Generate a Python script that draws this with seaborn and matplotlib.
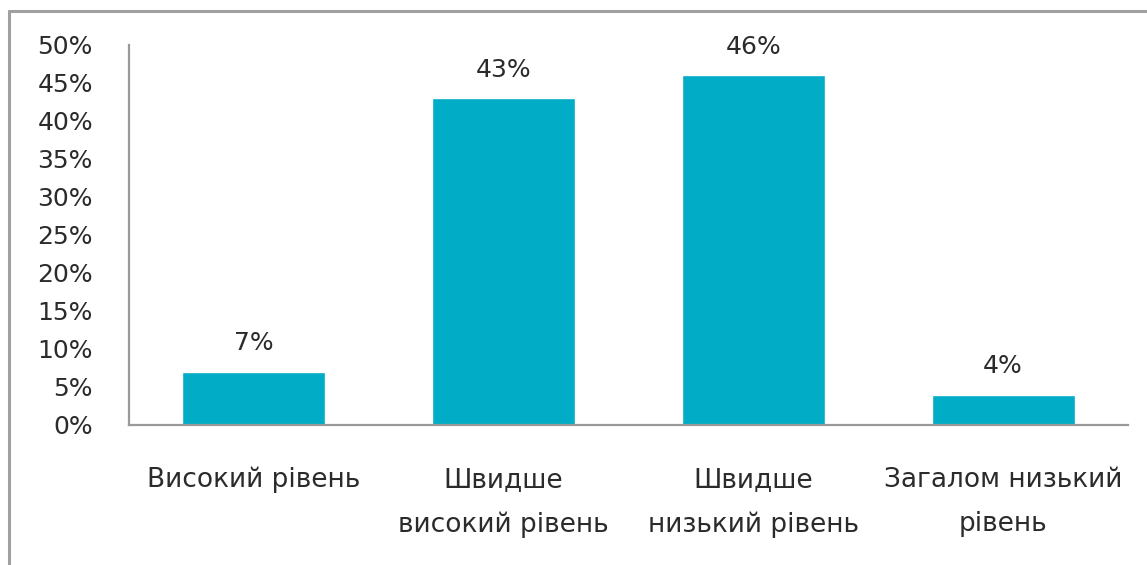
import matplotlib
matplotlib.use("Agg")
import matplotlib.pyplot as plt
import seaborn as sns
import pandas as pd
from matplotlib.lines import Line2D

categories = ["Високий рівень", "Швидше\nвисокий рівень", "Швидше\nнизький рівень", "Загалом низький\nрівень"]
values = [7, 43, 46, 4]
yticks = [0, 5, 10, 15, 20, 25, 30, 35, 40, 45, 50]

sns.set_theme(style="white")
plt.rcParams["font.family"] = ["DejaVu Sans"]

df = pd.DataFrame({"category": categories, "value": values})

fig = plt.figure(figsize=(11.47, 5.65), dpi=100)
ax = fig.add_axes([129 / 1147, 1 - 425 / 565, (1128 - 129) / 1147, (425 - 45) / 565])

sns.barplot(data=df, x="category", y="value", color="#00acc6", saturation=1,
            width=0.572, ax=ax)

ax.set_xlim(-0.5, 3.5)
ax.set_ylim(0, 50)
ax.set_yticks(yticks)
ax.set_yticklabels([f"{t}%" for t in yticks])
ax.set_xlabel("")
ax.set_ylabel("")

text_color = "#2b2b2b"
ax.tick_params(axis="y", length=0, pad=26, labelsize=18, labelcolor=text_color)
ax.tick_params(axis="x", length=0, pad=30, labelsize=19, labelcolor=text_color)
for lbl in ax.get_xticklabels():
    lbl.set_linespacing(1.9)
    lbl.set_verticalalignment("top")

for s in ["top", "right"]:
    ax.spines[s].set_visible(False)
for s in ["left", "bottom"]:
    ax.spines[s].set_color("#9a9a9a")
    ax.spines[s].set_linewidth(1.6)

for container in ax.containers:
    ax.bar_label(container, labels=[f"{v}%" for v in values], padding=12,
                 fontsize=18, color=text_color)

# outer frame of the chart area
fig.add_artist(Line2D([9 / 1147, 9 / 1147], [0, 1 - 11 / 565], transform=fig.transFigure,
                      color="#a0a0a0", linewidth=2.2))
fig.add_artist(Line2D([9 / 1147, 1], [1 - 11 / 565, 1 - 11 / 565], transform=fig.transFigure,
                      color="#a0a0a0", linewidth=2.2))

fig.savefig("out.png", dpi=100, facecolor="white")
